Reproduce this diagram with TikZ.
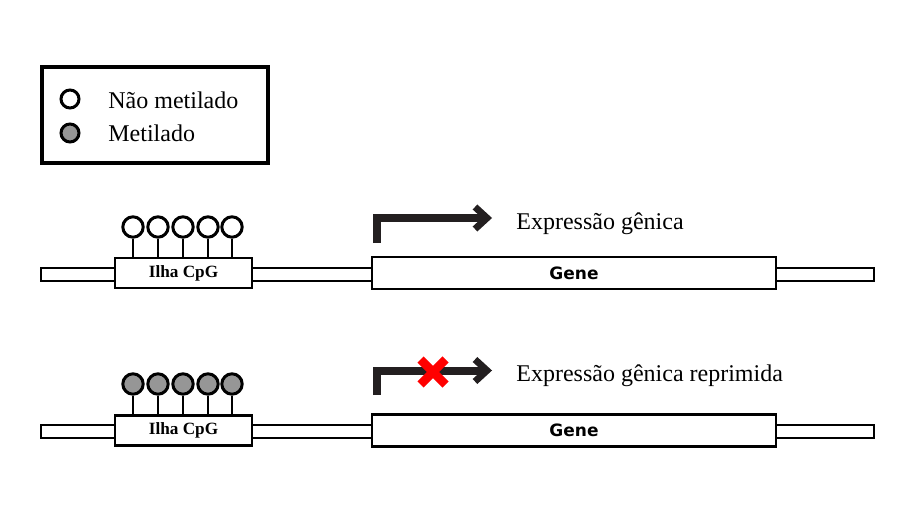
\documentclass[tikz,border=0pt]{standalone}
\usepackage{fontspec}
\setmainfont{Liberation Serif}
\newfontfamily\genefont{DejaVu Sans}
\definecolor{arrowgray}{RGB}{35,31,32}
\definecolor{methgray}{RGB}{150,150,150}
\begin{document}
\begin{tikzpicture}[x=0.5pt,y=-0.5pt,
  dna/.style={draw=black, fill=white, line width=1.4pt, minimum width=416.5pt, minimum height=6.5pt, inner sep=0pt},
  cpgbox/.style={draw=black, fill=white, line width=1.2pt, minimum width=68.5pt, minimum height=15pt, inner sep=0pt, font=\fontsize{8.6}{9}\selectfont\bfseries},
  genebox/.style={draw=black, fill=white, line width=1.4pt, minimum width=202pt, minimum height=16pt, inner sep=0pt, font=\genefont\fontsize{8.5}{9}\selectfont\bfseries},
  site/.style={circle, draw=black, line width=1.5pt, minimum size=10.2pt, inner sep=0pt},
  unmeth/.style={site, fill=white},
  meth/.style={site, fill=methgray},
  stem/.style={line width=1.4pt},
  promoter/.style={draw=arrowgray, line width=4pt, line join=miter},
  chevron/.style={draw=arrowgray, line width=3.4pt, line join=miter, miter limit=4},
  redx/.style={draw=red, line width=4.4pt},
  label/.style={anchor=west, inner sep=0pt, font=\fontsize{12}{14}\selectfont},
  legendbox/.style={draw=black, line width=2.25pt, minimum width=113pt, minimum height=48pt, inner sep=0pt}
]
\useasboundingbox (0,0) rectangle (921,508);

% legend
\node[legendbox] (legend) at (155,115) {};
\node[site, fill=white, minimum size=9pt] (lu) at (70,99) {};
\node[site, fill=methgray, minimum size=9pt] (lm) at (70,133) {};
\node[label] (lut) at (108,100) {Não metilado};
\node[label] (lmt) at (108,133) {Metilado};

% row 1
\node[dna] (bar1) at (457.5,274.5) {};
\node[cpgbox] (cpg1) at (183.5,273) {Ilha CpG};
\node[genebox] (gene1) at (574,273) {Gene};
\foreach \i/\x in {1/133,2/158,3/183,4/208,5/232}{
  \node[unmeth] (a\i) at (\x,227) {};
  \draw[stem] (a\i.south) -- (a\i.south |- cpg1.north);
}
\coordinate (p1s) at (377,243);
\coordinate (p1e) at (487,218);
\draw[promoter] (p1s) |- (p1e);
\draw[chevron] ([shift={(-12,-11)}]p1e) -- (p1e) -- ([shift={(-12,11)}]p1e);
\node[label] (e1) at (516,224) {Expressão gênica};

% row 2
\node[dna] (bar2) at (457.5,431.5) {};
\node[cpgbox] (cpg2) at (183.5,430.5) {Ilha CpG};
\node[genebox] (gene2) at (574,430.5) {Gene};
\foreach \i/\x in {1/133,2/158,3/183,4/208,5/232}{
  \node[meth] (b\i) at (\x,384) {};
  \draw[stem] (b\i.south) -- (b\i.south |- cpg2.north);
}
\coordinate (p2s) at (377,395);
\coordinate (p2e) at (487,370.5);
\draw[promoter] (p2s) |- (p2e);
\draw[chevron] ([shift={(-12,-11)}]p2e) -- (p2e) -- ([shift={(-12,11)}]p2e);
\coordinate (xc) at (433,372);
\draw[redx] ([shift={(-12.5,-12.5)}]xc) -- ([shift={(12.5,12.5)}]xc);
\draw[redx] ([shift={(-12.5,12.5)}]xc) -- ([shift={(12.5,-12.5)}]xc);
\node[label] (e2) at (516,376) {Expressão gênica reprimida};
\end{tikzpicture}
\end{document}
